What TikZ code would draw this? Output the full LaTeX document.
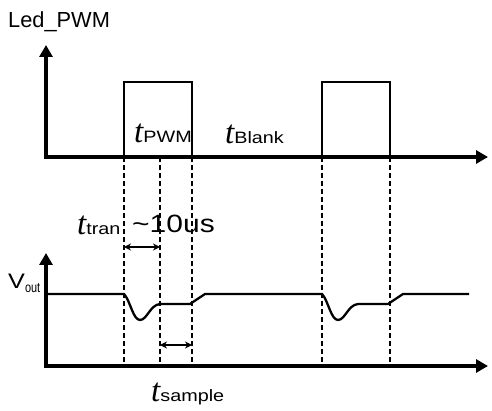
\documentclass[tikz,border=0pt]{standalone}
\usepackage{fontspec}
\setmainfont{Liberation Sans}[FakeStretch=1.2]
\newfontfamily\tfont{Liberation Serif}
\newfontfamily\plainfont{Liberation Sans}
\newfontfamily\narrowfont{Liberation Sans}[FakeStretch=0.78]
\usetikzlibrary{arrows.meta}
\newcommand{\tsub}[1]{{\fontsize{33}{33}\tfont\itshape t}{\fontsize{16.5}{17}\selectfont #1}}
\def\dip{.. controls +(6,6) and +(-7,0) .. ++(16,26) .. controls +(7,0) and +(-10,1) .. ++(20,-16) -- ++(30,0) -- ++(15,-10)}
\tikzset{axis/.style={line width=4pt, line join=miter, {Triangle[length=12pt,width=13pt]}-{Triangle[length=12pt,width=13pt]}},
	pulse/.style={line width=2.7pt},
	wave/.style={line width=2.3pt, line join=round},
	guide/.style={dashed, dash pattern=on 5pt off 3pt, line width=1.2pt},
	span/.style={line width=1.5pt, {Stealth[length=7pt,width=7pt]}-{Stealth[length=7pt,width=7pt]}},
	label/.style={inner sep=0pt, anchor=base west}}

\begin{document}
\begin{tikzpicture}[x=1pt,y=-1pt]
		\useasboundingbox (0,0) rectangle (492,411);
		\foreach \x in {124,160,192,322,390}
		\draw[guide] (\x,157) -- (\x,366);
		
		\draw[axis] (46,45) -- (46,157) -- (488,157);
		\draw[pulse] (124,157) -- (124,82) -- (192,82) -- (192,157);
		\draw[pulse] (322,157) -- (322,82) -- (390,82) -- (390,157);
		
		\draw[axis] (46,253) -- (46,366) -- (488,366);
		\draw[wave] (46,294) -- (124,294) \dip -- (322,294) \dip -- (469,294);
		
		\coordinate (tran a) at (124,247);
		\coordinate (tran b) at (160,247);
		\coordinate (sample a) at (160,345);
		\coordinate (sample b) at (192,345);
		\draw[span] (tran a) -- (tran b);
		\draw[span] (sample a) -- (sample b);
		
		\node[label] (led) at (8,28) {\fontsize{21.8}{22}\plainfont Led\_PWM};
		\node[label] (vout) at (8,288) {\fontsize{21}{22}\selectfont V\raisebox{-4pt}{\fontsize{14}{14}\narrowfont out}};
		\node[label] (tpwm) at (134,143) {\tsub{PWM}};
		\node[label] (tblank) at (225,144) {\tsub{Blank}};
		\node[label] (ttran) at (77,235) {\tsub{tran}};
		\node[label] (approx) at (132,233) {\fontsize{25}{25}\selectfont\textasciitilde 10us};
		\node[label] (tsample) at (151,401) {\tsub{sample}};
		
		\end{tikzpicture}
\end{document}
